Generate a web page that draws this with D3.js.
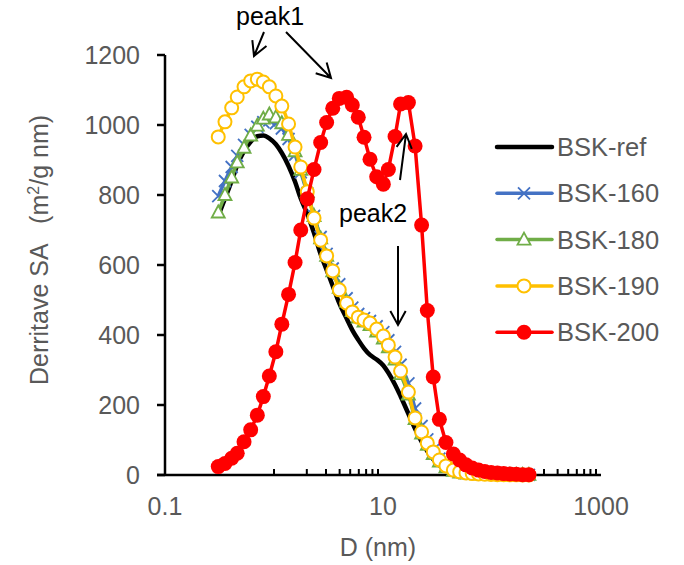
<!DOCTYPE html>
<html lang="en">
<head>
    <meta charset="UTF-8">
    <title>Derivative SA</title>
    <script type="text/javascript" src="https://d3js.org/d3.v7.min.js"></script>
    <style>
        body {
            margin: 0;
            background: #fff;
        }
        svg text {
            font-family: "Liberation Sans", Arial, sans-serif;
        }
    </style>
</head>
<body>
    <div id="chart"></div>
    <script>
        // pore diameter (nm)
        const diameters = [0.308, 0.355, 0.409, 0.460, 0.531, 0.611, 0.703, 0.798, 0.906, 1.04,
            1.18, 1.36, 1.56, 1.76, 2.02, 2.33, 2.68, 3.04, 3.46, 3.97,
            4.64, 5.23, 5.93, 6.70, 7.60, 8.75, 10.07, 11.2, 12.9, 14.5,
            17.1, 19.7, 22.6, 25.5, 28.9, 32.9, 37.8, 44.2, 50.5, 57.7,
            65.8, 75.2, 85.9, 98.0, 112, 128, 146, 167, 191, 218];

        const saRef = [740, 790, 840, 885, 925, 952, 968, 970, 962, 945,
            920, 883, 838, 790, 746, 691, 631, 586, 540, 491,
            447, 414, 386, 362, 343, 330, 313, 292, 258, 225,
            175, 132, 95, 68, 45, 28, 16, 9, 5, 3,
            2, 1, 1, 0.5, 0.5, 0.3, 0.2, 0.1, 0.1, 0];

        const sa160 = [797, 840, 880, 912, 943, 972, 995, 1008, 1013, 1005,
            990, 960, 915, 865, 805, 740, 680, 632, 590, 545,
            505, 478, 460, 448, 440, 425, 408, 385, 352, 315,
            262, 190, 140, 102, 72, 47, 28, 16, 10, 6,
            4, 3, 2, 1.5, 1, 1, 0.5, 0.5, 0.3, 0.2];

        const sa180 = [750, 800, 850, 893, 935, 970, 998, 1018, 1030, 1022,
            1005, 972, 925, 872, 808, 740, 676, 626, 582, 535,
            495, 468, 450, 438, 428, 410, 390, 365, 330, 288,
            230, 160, 118, 86, 60, 38, 22, 12, 7, 4,
            3, 2, 1.5, 1, 1, 0.5, 0.5, 0.3, 0.2, 0.1];

        const sa190 = [966, 1009, 1049, 1080, 1109, 1126, 1131, 1123, 1109, 1083,
            1054, 1003, 937, 880, 809, 734, 671, 626, 583, 529,
            491, 466, 451, 443, 434, 417, 397, 371, 337, 297,
            237, 163, 123, 91, 66, 43, 26, 14, 9, 6,
            4, 3, 2, 1.5, 1, 1, 0.5, 0.5, 0.3, 0.2];

        const sa200 = [24, 33, 48, 62, 95, 129, 171, 224, 283, 352,
            431, 516, 607, 700, 789, 873, 950, 1007, 1048, 1076,
            1079, 1057, 1022, 965, 902, 852, 831, 873, 967, 1060,
            1064, 940, 714, 470, 280, 159, 93, 60, 43, 29,
            20, 14, 10, 7, 6, 4, 3, 2, 1, 1];

        const seriesNames = ['BSK-ref', 'BSK-160', 'BSK-180', 'BSK-190', 'BSK-200'];
        const yTicks = [0, 200, 400, 600, 800, 1000, 1200];
        const xTicks = [0.1, 10, 1000];
        const xMinorTicks = [1, 2, 3, 4, 5, 6, 7, 8, 9, 100, 200, 300, 400, 500, 600, 700, 800, 900];

        const width = 684;
        const height = 565;
        const grey = '#595959';

        const svg = d3.select('#chart')
            .append('svg')
            .attr('width', width)
            .attr('height', height);

        const x = d3.scaleLog().domain([0.1, 1000]).range([165, 601]);
        const y = d3.scaleLinear().domain([0, 1200]).range([475, 55]);

        const series = [
            { name: seriesNames[0], values: saRef, color: '#000000', width: 4.5, marker: 'none', curve: d3.curveMonotoneX },
            { name: seriesNames[1], values: sa160, color: '#4472C4', width: 3.5, marker: 'cross', curve: d3.curveMonotoneX },
            { name: seriesNames[2], values: sa180, color: '#70AD47', width: 3.5, marker: 'triangle', curve: d3.curveMonotoneX },
            { name: seriesNames[3], values: sa190, color: '#FFC000', width: 3.5, marker: 'circle', curve: d3.curveMonotoneX },
            { name: seriesNames[4], values: sa200, color: '#FF0000', width: 3.5, marker: 'dot', curve: d3.curveLinear }
        ];

        function drawMarker(g, type, color) {
            if (type === 'cross') {
                g.append('path')
                    .attr('d', 'M-6,-6L6,6M-6,6L6,-6')
                    .attr('stroke', color)
                    .attr('stroke-width', 1.8)
                    .attr('fill', 'none');
            } else if (type === 'triangle') {
                g.append('path')
                    .attr('d', 'M0,-7L6.5,5L-6.5,5Z')
                    .attr('stroke', color)
                    .attr('stroke-width', 1.8)
                    .attr('fill', '#fff');
            } else if (type === 'circle') {
                g.append('circle')
                    .attr('r', 6.5)
                    .attr('stroke', color)
                    .attr('stroke-width', 2)
                    .attr('fill', '#fff');
            } else if (type === 'dot') {
                g.append('circle')
                    .attr('r', 7.5)
                    .attr('fill', color);
            }
        }

        // axes
        const axisG = svg.append('g');
        axisG.append('line')
            .attr('x1', 165).attr('x2', 165)
            .attr('y1', y(1200)).attr('y2', y(0))
            .attr('stroke', '#000').attr('stroke-width', 2.5);
        axisG.selectAll('.ytick')
            .data(yTicks)
            .enter()
            .append('line')
            .attr('x1', 157).attr('x2', 165)
            .attr('y1', d => y(d)).attr('y2', d => y(d))
            .attr('stroke', '#000').attr('stroke-width', 2.5);
        axisG.selectAll('.ylabel')
            .data(yTicks)
            .enter()
            .append('text')
            .attr('x', 140)
            .attr('y', d => y(d) + 9)
            .attr('text-anchor', 'end')
            .attr('font-size', 25)
            .attr('fill', grey)
            .text(d => d);

        axisG.append('line')
            .attr('x1', 157).attr('x2', 601)
            .attr('y1', y(0)).attr('y2', y(0))
            .attr('stroke', '#000').attr('stroke-width', 2.5);
        axisG.selectAll('.xminor')
            .data(xMinorTicks)
            .enter()
            .append('line')
            .attr('x1', d => x(d)).attr('x2', d => x(d))
            .attr('y1', y(0)).attr('y2', y(0) - 6)
            .attr('stroke', '#000').attr('stroke-width', 2);
        axisG.selectAll('.xlabel')
            .data(xTicks)
            .enter()
            .append('text')
            .attr('x', d => x(d))
            .attr('y', 515)
            .attr('text-anchor', 'middle')
            .attr('font-size', 25)
            .attr('fill', grey)
            .text(d => d);

        svg.append('text')
            .attr('x', 378)
            .attr('y', 556)
            .attr('text-anchor', 'middle')
            .attr('font-size', 25)
            .attr('fill', grey)
            .text('D (nm)');

        const yTitle = svg.append('text')
            .attr('transform', 'translate(48,250) rotate(-90)')
            .attr('text-anchor', 'middle')
            .attr('font-size', 25)
            .attr('fill', grey)
            .style('white-space', 'pre');
        yTitle.append('tspan').text('Derritave SA   (m');
        yTitle.append('tspan').attr('font-size', 16).attr('dy', -9).text('2');
        yTitle.append('tspan').attr('dy', 9).text('/g nm)');

        // series lines and markers
        series.forEach(s => {
            const pts = diameters.map((d, i) => [d, s.values[i]]);
            const line = d3.line()
                .x(d => x(d[0]))
                .y(d => y(d[1]))
                .curve(s.curve);
            svg.append('path')
                .datum(pts)
                .attr('d', line)
                .attr('fill', 'none')
                .attr('stroke', s.color)
                .attr('stroke-width', s.width)
                .attr('stroke-linejoin', 'round');
            if (s.marker !== 'none') {
                pts.forEach(p => {
                    const g = svg.append('g')
                        .attr('transform', `translate(${x(p[0])},${y(p[1])})`);
                    drawMarker(g, s.marker, s.color);
                });
            }
        });

        // legend
        const legend = svg.append('g');
        series.forEach((s, i) => {
            const ly = 147 + i * 46.3;
            legend.append('line')
                .attr('x1', 497).attr('x2', 552)
                .attr('y1', ly).attr('y2', ly)
                .attr('stroke', s.color)
                .attr('stroke-width', s.width)
                .attr('stroke-linecap', 'round');
            const g = legend.append('g').attr('transform', `translate(524,${ly})`);
            drawMarker(g, s.marker, s.color);
            legend.append('text')
                .attr('x', 557)
                .attr('y', ly + 9)
                .attr('font-size', 25.5)
                .attr('fill', grey)
                .text(s.name);
        });

        // annotations
        function arrow(x1, y1, x2, y2) {
            const ang = Math.atan2(y2 - y1, x2 - x1);
            const len = 16;
            const spread = 0.5;
            const a1 = [x2 - len * Math.cos(ang - spread), y2 - len * Math.sin(ang - spread)];
            const a2 = [x2 - len * Math.cos(ang + spread), y2 - len * Math.sin(ang + spread)];
            svg.append('path')
                .attr('d', `M${x1},${y1}L${x2},${y2}M${a1[0]},${a1[1]}L${x2},${y2}L${a2[0]},${a2[1]}`)
                .attr('stroke', '#000')
                .attr('stroke-width', 2)
                .attr('fill', 'none');
        }

        svg.append('text')
            .attr('x', 236).attr('y', 25)
            .attr('font-size', 25)
            .attr('fill', '#000')
            .text('peak1');
        arrow(264, 32, 254, 56);
        arrow(286, 32, 331, 78);

        svg.append('text')
            .attr('x', 339).attr('y', 222)
            .attr('font-size', 25)
            .attr('fill', '#000')
            .text('peak2');
        arrow(400, 180, 406, 134);
        arrow(398, 246, 398, 325);
    </script>
</body>
</html>
